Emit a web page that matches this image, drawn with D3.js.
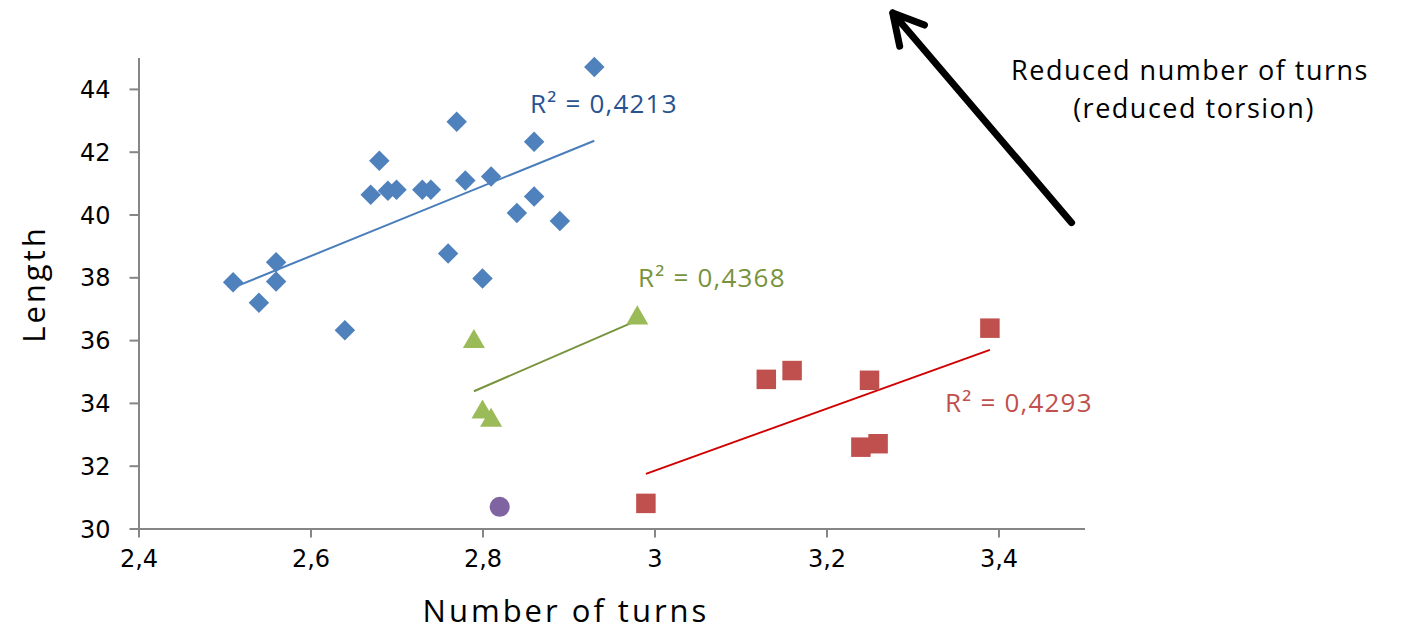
<!DOCTYPE html>
<html>
<head>
<meta charset="utf-8">
<script src="https://cdn.jsdelivr.net/npm/d3@7"></script>
<style>
  body { margin: 0; background: #fff; }
  svg { display: block; }
  .tick text { font-family: "DejaVu Sans", Verdana, sans-serif; font-size: 24px; fill: #000; }
  .axis path, .axis line { stroke: #868686; stroke-width: 2; }
  .comic { font-family: "Comic Sans MS", "Open Sans", sans-serif; }
</style>
</head>
<body>
<svg width="1405" height="631"></svg>
<script>
// **** data ****

// blue series (diamonds)
var blueX = [2.51, 2.54, 2.56, 2.56, 2.64, 2.67, 2.68, 2.69, 2.70, 2.73, 2.74,
             2.76, 2.77, 2.78, 2.80, 2.81, 2.84, 2.86, 2.86, 2.89, 2.93];
var blueY = [37.84, 37.19, 38.48, 37.87, 36.31, 40.63, 41.71, 40.76, 40.79, 40.79, 40.79,
             38.76, 42.95, 41.08, 37.96, 41.21, 40.05, 42.32, 40.57, 39.79, 44.70];

// green series (triangles)
var greenX = [2.79, 2.80, 2.81, 2.98];
var greenY = [36.0, 33.75, 33.49, 36.75];

// red series (squares)
var redX = [2.99, 3.13, 3.16, 3.24, 3.25, 3.26, 3.39];
var redY = [30.80, 34.75, 35.03, 32.59, 34.72, 32.70, 36.38];

// single purple point
var purpleX = [2.82];
var purpleY = [30.69];

// trend lines (end points as drawn)
var blueTrend = [[2.51, 37.67], [2.93, 42.35]];
var greenTrend = [[2.79, 34.37], [2.98, 36.63]];
var redTrend = [[2.99, 31.74], [3.39, 35.69]];

var r2Labels = ["R² = 0,4213", "R² = 0,4368", "R² = 0,4293"];

var xTicks = [2.4, 2.6, 2.8, 3.0, 3.2, 3.4];
var yTicks = [30, 32, 34, 36, 38, 40, 42, 44];

// arrow annotation, in data units (sits outside the plot)
var arrowFrom = [3.485, 39.74];
var arrowTo = [3.277, 46.42];

// **** scales and axes ****

var svg = d3.select('svg');

var xScale = d3.scaleLinear().domain([2.4, 3.5]).range([138.5, 1084.5]);
var yScale = d3.scaleLinear().domain([30, 45]).range([528.5, 57.5]);

var commaFmt = d3.formatLocale({decimal: ",", thousands: ".", grouping: [3], currency: ["", ""]}).format("~g");

svg.append('g').attr('class', 'x axis')
    .attr('transform', 'translate(0,528.5)')
    .call(d3.axisBottom(xScale).tickValues(xTicks).tickSize(9).tickSizeOuter(0)
        .tickPadding(12).tickFormat(commaFmt));

svg.append('g').attr('class', 'y axis')
    .attr('transform', 'translate(138.5,0)')
    .call(d3.axisLeft(yScale).tickValues(yTicks).tickSize(9).tickSizeOuter(0)
        .tickPadding(19).tickFormat(commaFmt));

svg.selectAll('.x.axis .tick text').attr('dy', '0.71em');
svg.selectAll('.y.axis .tick text').attr('dy', '0.36em');

svg.append('text')
    .attr('class', 'comic')
    .attr('x', 566).attr('y', 622)
    .attr('text-anchor', 'middle')
    .style('font-size', '31px')
    .style('letter-spacing', '3px')
    .text('Number of turns');

svg.append('text')
    .attr('class', 'comic')
    .attr('transform', 'translate(45,284) rotate(-90)')
    .attr('text-anchor', 'middle')
    .style('font-size', '31px')
    .style('letter-spacing', '3px')
    .text('Length');

// **** trend lines ****

var line = d3.line()
    .x(function(d) { return xScale(d[0]); })
    .y(function(d) { return yScale(d[1]); });

var trends = [
    {pts: blueTrend, color: "#4A7EBB"},
    {pts: greenTrend, color: "#77933C"},
    {pts: redTrend, color: "#D00000"}
];

svg.selectAll('path.trend')
    .data(trends)
    .enter()
    .append('path')
    .attr('class', 'trend')
    .attr('d', function(d) { return line(d.pts); })
    .attr('fill', 'none')
    .attr('stroke', function(d) { return d.color; })
    .attr('stroke-width', 2);

// **** markers ****

function pairs(xs, ys) {
    return xs.map(function(x, i) { return [x, ys[i]]; });
}

function drawSeries(pts, symbolType, size, color, rotate, dy) {
    svg.append('g').selectAll('path')
        .data(pts)
        .enter()
        .append('path')
        .attr('d', d3.symbol().type(symbolType).size(size))
        .attr('transform', function(d) {
            return 'translate(' + xScale(d[0]) + ',' + (yScale(d[1]) + dy) + ') rotate(' + rotate + ')';
        })
        .attr('fill', color);
}

drawSeries(pairs(blueX, blueY), d3.symbolSquare, 210, "#4F81BD", 45, 0);
drawSeries(pairs(greenX, greenY), d3.symbolTriangle, 210, "#9BBB59", 0, 1.5);
drawSeries(pairs(redX, redY), d3.symbolSquare, 380, "#C0504D", 0, 0);
drawSeries(pairs(purpleX, purpleY), d3.symbolCircle, 314, "#8064A2", 0, 0);

// **** R² labels ****

var labelPos = [
    {x: 530, y: 113, color: "#285290"},
    {x: 638, y: 287, color: "#77933C"},
    {x: 945, y: 412, color: "#C0504D"}
];

svg.selectAll('text.r2')
    .data(r2Labels)
    .enter()
    .append('text')
    .attr('class', 'r2 comic')
    .attr('x', function(d, i) { return labelPos[i].x; })
    .attr('y', function(d, i) { return labelPos[i].y; })
    .attr('fill', function(d, i) { return labelPos[i].color; })
    .style('font-size', '26px')
    .style('letter-spacing', '1.2px')
    .text(function(d) { return d; });

// **** annotation ****

var ax0 = xScale(arrowFrom[0]), ay0 = yScale(arrowFrom[1]);
var ax1 = xScale(arrowTo[0]), ay1 = yScale(arrowTo[1]);
var ang = Math.atan2(ay1 - ay0, ax1 - ax0);
var head = 34, spread = 0.5;

svg.append('path')
    .attr('d', 'M' + ax0 + ',' + ay0 + 'L' + ax1 + ',' + ay1 +
        'M' + (ax1 - head * Math.cos(ang - spread)) + ',' + (ay1 - head * Math.sin(ang - spread)) +
        'L' + ax1 + ',' + ay1 +
        'L' + (ax1 - head * Math.cos(ang + spread)) + ',' + (ay1 - head * Math.sin(ang + spread)))
    .attr('fill', 'none')
    .attr('stroke', '#000')
    .attr('stroke-width', 7)
    .attr('stroke-linecap', 'round')
    .attr('stroke-linejoin', 'round');

var note = svg.append('text')
    .attr('class', 'comic')
    .attr('text-anchor', 'middle')
    .style('font-size', '27px')
    .style('letter-spacing', '1.5px');
note.append('tspan').attr('x', 1190).attr('y', 80).text('Reduced number of turns');
note.append('tspan').attr('x', 1194).attr('y', 118).text('(reduced torsion)');
</script>
</body>
</html>
